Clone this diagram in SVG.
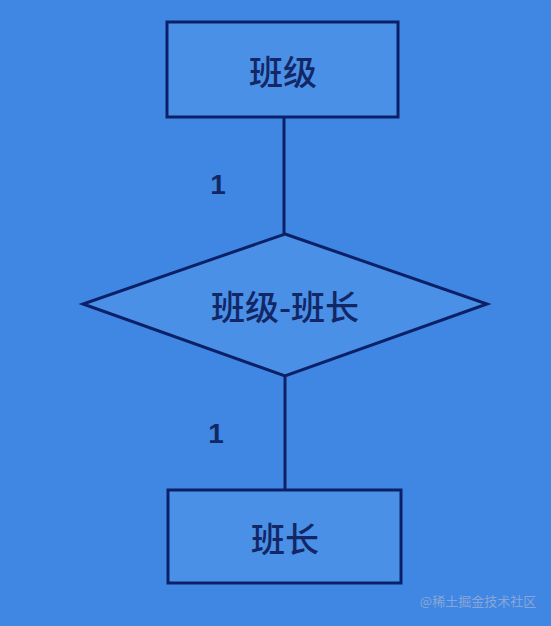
<svg xmlns="http://www.w3.org/2000/svg" width="551" height="626" viewBox="0 0 551 626">
<style>
.shape{fill:#4a90e6;stroke:#0c2068;stroke-width:3}
.line{stroke:#0c2068;stroke-width:3;fill:none}
.t{font-family:"Noto Sans CJK SC","Liberation Sans",sans-serif;font-weight:500;fill:#132766;text-anchor:middle;dominant-baseline:central}
.num{font-family:"Liberation Sans",sans-serif;font-weight:bold;fill:#132766;font-size:28px;text-anchor:middle;dominant-baseline:central}
</style>
<rect width="551" height="626" fill="#3f87e2"/>
<g id="connectors">
<line class="line" x1="284" y1="117" x2="284" y2="234"/>
<line class="line" x1="285" y1="376" x2="285" y2="490"/>
<text class="num" x="218" y="184">1</text>
<text class="num" x="216" y="433">1</text>
</g>
<g id="class">
<rect class="shape" x="167" y="22" width="231" height="95"/>
<text class="t" x="283" y="70" font-size="34">班级</text>
</g>
<g id="relation">
<polygon class="shape" points="285,234 487,304 285,376 83,304"/>
<text class="t" x="285" y="305" font-size="34">班级-班长</text>
</g>
<g id="monitor">
<rect class="shape" x="168" y="490" width="233" height="93"/>
<text class="t" x="285" y="537" font-size="34">班长</text>
</g>
<text x="478" y="600" font-family="Noto Sans CJK SC,sans-serif" font-size="13" fill="#8aa6d8" text-anchor="middle" dominant-baseline="central">@稀土掘金技术社区</text>
</svg>
